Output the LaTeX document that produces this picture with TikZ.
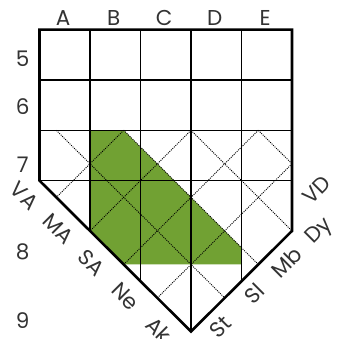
\documentclass[tikz,border=0pt]{standalone}
\usepackage{fontspec}
\setmainfont{Poppins}
\usepackage{tikz}
\usetikzlibrary{positioning}
\definecolor{leafgreen}{RGB}{113,161,51}
\definecolor{inkgray}{RGB}{51,51,51}

\begin{document}
\begin{tikzpicture}[x=50.5pt, y=-50.3pt,
    lbl/.style={font=\fontsize{21.5}{24}\selectfont, text=inkgray, inner sep=0pt},
    gridline/.style={line width=1.3pt},
    border/.style={line width=2.6pt, line join=miter},
    diag/.style={line width=0.9pt, dash pattern=on 1pt off 1.1pt}]

    \useasboundingbox (-0.782,-0.590) rectangle (5.911,6.149);

    % corners of the board
    \coordinate (nw) at (0,0);
    \coordinate (ne) at (5,0);
    \coordinate (sw) at (0,3);
    \coordinate (se) at (5,4);
    \coordinate (tip) at (3,6);

    % green area
    \fill[leafgreen] (1,2) -- (1.667,2) -- (4,4.333) -- (4,4.667)
        -- (1.667,4.667) -- (1,4) -- cycle;

    % dotted diagonals
    \draw[diag] (0.333,2) -- (3.667,5.333);
    \draw[diag] (1.667,2) -- (4.333,4.667);
    \draw[diag] (3,2) -- (5,4);
    \draw[diag] (4.333,2) -- (5,2.667);
    \draw[diag] (1.667,2) -- (0.333,3.333);
    \draw[diag] (3,2) -- (1,4);
    \draw[diag] (4.333,2) -- (1.667,4.667);
    \draw[diag] (5,2.667) -- (2.333,5.333);

    % grid
    \foreach \y in {1,2,3}
        \draw[gridline] (0,\y) -- (5,\y);
    \draw[gridline] (1,0) -- (1,4);
    \draw[gridline] (2,0) -- (2,5);
    \draw[gridline] (3,0) -- (tip);
    \draw[gridline] (4,0) -- (4,5);

    \draw[border] (sw) -- (nw) -- (ne) -- (se) -- (tip) -- cycle;

    % column and row labels
    \foreach \l [count=\i from 0] in {A,B,C,D,E}
        \node[lbl] (col\l) at (\i+0.47,-0.223) {\l};
    \foreach \r/\y in {5/0.57,6/1.52,7/2.69,8/4.42,9/5.79}
        \node[lbl] (row\r) at (-0.333,\y) {\r};

    % diagonal labels
    \foreach \t/\c in {VA/3,MA/4.333,SA/5.667,Ne/7,Ak/8.333}
        \node[lbl, rotate=-45] (left\t) at ({(\c-3.6)/2},{(\c+3.6)/2}) {\t};
    \node[lbl, rotate=45] (rightSt) at (3.585,5.915) {St};
    \node[lbl, rotate=45] (rightSl) at (4.25,5.25) {Sl};
    \node[lbl, rotate=45] (rightMb) at (4.89,4.63) {Mb};
    \node[lbl, rotate=45] (rightDy) at (5.55,4.02) {Dy};
    \node[lbl, rotate=45] (rightVD) at (5.49,3.19) {VD};

\end{tikzpicture}
\end{document}
